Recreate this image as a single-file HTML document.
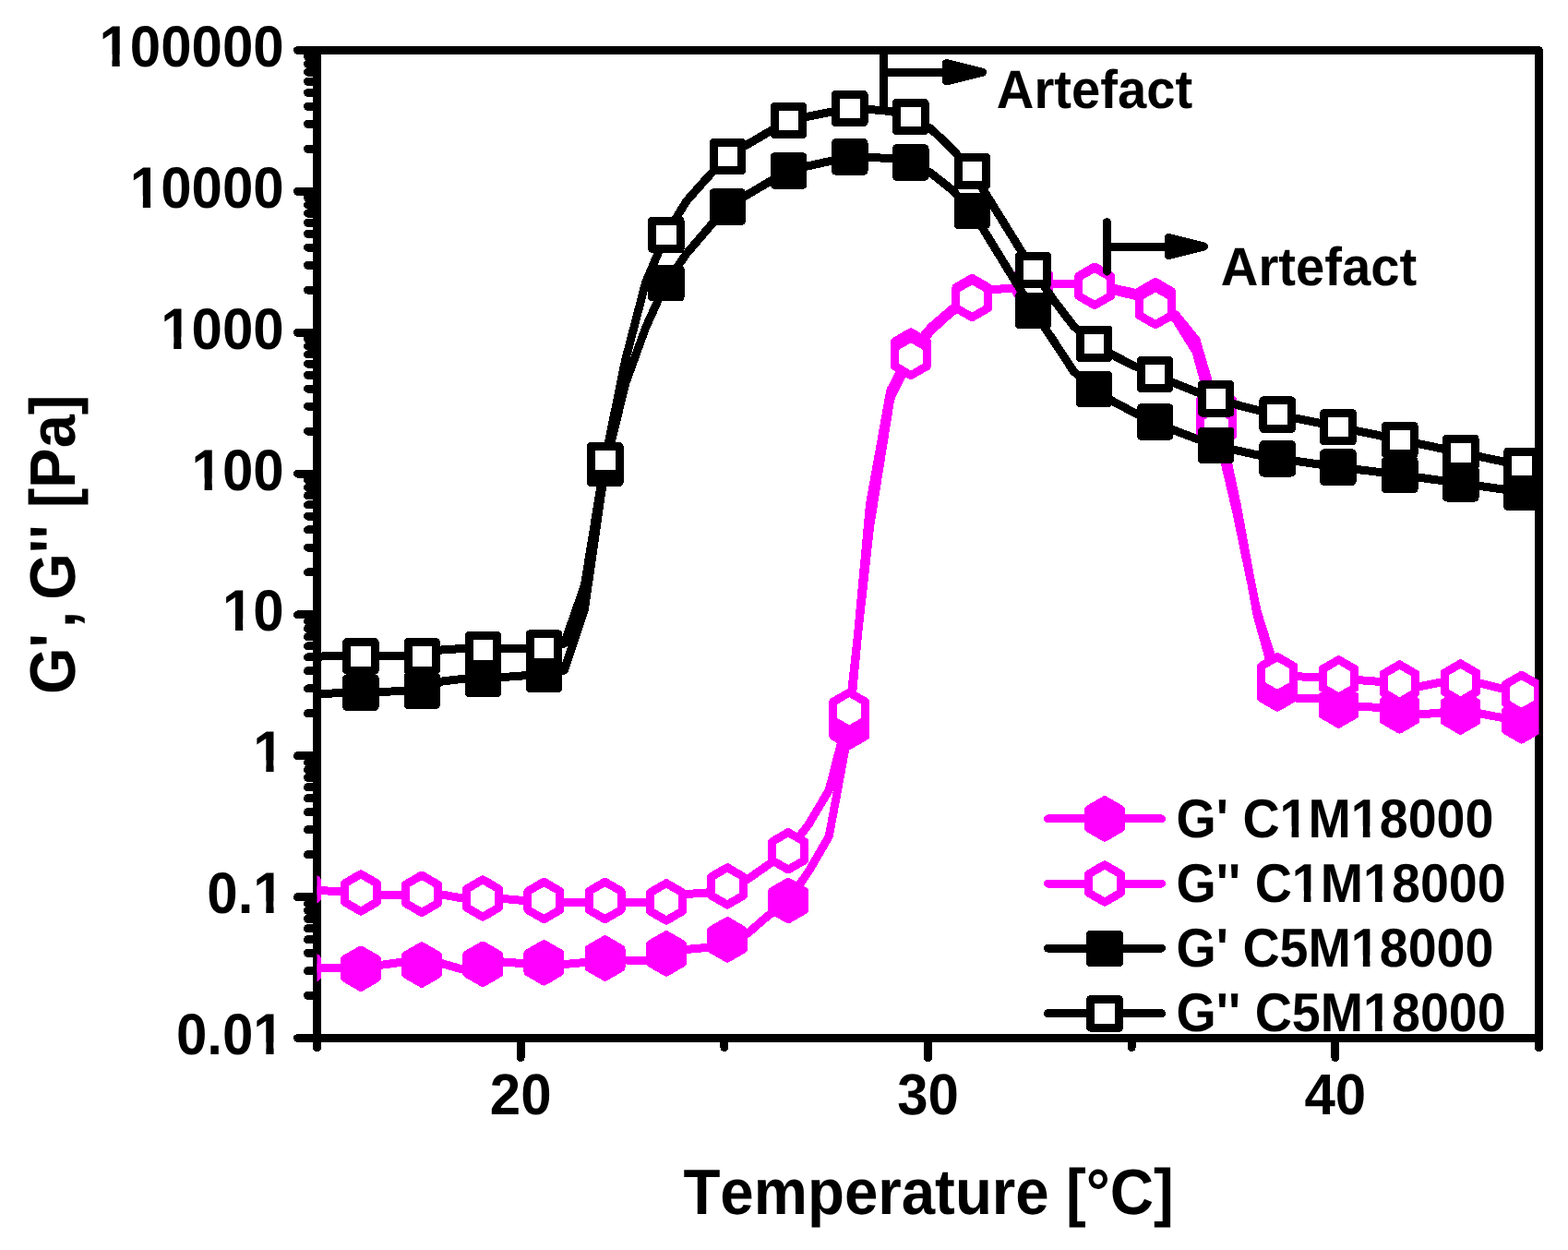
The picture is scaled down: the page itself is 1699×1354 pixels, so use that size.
<!DOCTYPE html>
<html lang="en"><head><meta charset="utf-8"><title>G', G'' vs Temperature</title>
<style>html,body{margin:0;padding:0;background:#fff}body{width:1699px;height:1354px;overflow:hidden}svg{display:block}text{font-family:"Liberation Sans",Arial,Helvetica,sans-serif;font-weight:bold;fill:#000;font-kerning:none;font-variant-ligatures:none;text-rendering:geometricPrecision}.t60{font-size:60px}.t56{font-size:56px}.t65{font-size:65px}</style></head><body>
<svg width="1699" height="1354" viewBox="0 0 1699 1354" shape-rendering="crispEdges">
<rect width="1699" height="1354" fill="#fff"/>
<defs><clipPath id="plot"><rect x="343.5" y="50" width="1324" height="1079"/></clipPath></defs>
<g fill="none" stroke="#000" stroke-width="9" stroke-linecap="round" stroke-linejoin="round">
<path d="M343.5 54.5H1667.5V1124.5"/>
<path d="M343.5 54.5V1124.5H1667.5"/>
<path d="M322.5 1124.5H343.5M333.5 1078.49H343.5M333.5 1051.57H343.5M333.5 1032.47H343.5M333.5 1017.66H343.5M333.5 1005.55H343.5M333.5 995.32H343.5M333.5 986.46H343.5M333.5 978.64H343.5M322.5 971.64H343.5M333.5 925.63H343.5M333.5 898.71H343.5M333.5 879.61H343.5M333.5 864.8H343.5M333.5 852.7H343.5M333.5 842.46H343.5M333.5 833.6H343.5M333.5 825.78H343.5M322.5 818.79H343.5M333.5 772.77H343.5M333.5 745.85H343.5M333.5 726.76H343.5M333.5 711.94H343.5M333.5 699.84H343.5M333.5 689.61H343.5M333.5 680.74H343.5M333.5 672.92H343.5M322.5 665.93H343.5M333.5 619.91H343.5M333.5 593H343.5M333.5 573.9H343.5M333.5 559.09H343.5M333.5 546.98H343.5M333.5 536.75H343.5M333.5 527.88H343.5M333.5 520.07H343.5M322.5 513.07H343.5M333.5 467.06H343.5M333.5 440.14H343.5M333.5 421.04H343.5M333.5 406.23H343.5M333.5 394.13H343.5M333.5 383.89H343.5M333.5 375.03H343.5M333.5 367.21H343.5M322.5 360.21H343.5M333.5 314.2H343.5M333.5 287.28H343.5M333.5 268.19H343.5M333.5 253.37H343.5M333.5 241.27H343.5M333.5 231.04H343.5M333.5 222.17H343.5M333.5 214.35H343.5M322.5 207.36H343.5M333.5 161.34H343.5M333.5 134.43H343.5M333.5 115.33H343.5M333.5 100.51H343.5M333.5 88.41H343.5M333.5 78.18H343.5M333.5 69.31H343.5M333.5 61.49H343.5M322.5 54.5H343.5"/>
<path d="M564.17 1124.5V1145.6M1005.5 1124.5V1145.6M1446.83 1124.5V1145.6M343.5 1124.5V1134.6M784.83 1124.5V1134.6M1226.17 1124.5V1134.6M1667.5 1124.5V1134.6"/>
</g>
<g clip-path="url(#plot)" stroke-width="9" stroke-linejoin="round" stroke-linecap="round">
<polyline fill="none" stroke="#ff00ff" points="324.8,1048.3 346.87,1048.6 368.93,1048.9 391,1049.2 413,1045.3 435,1042.3 457,1045.1 479.03,1043.7 501.07,1050 523.1,1044.3 545.2,1042 567.3,1043.7 589.4,1042.8 611.47,1044.5 633.53,1042.5 655.6,1038 677.73,1040 699.87,1040.3 722,1032.9 744.03,1028.4 766.07,1026.4 788.1,1017.9 810.1,1011 832.1,992 854.1,975.6 876.17,944 898.23,906 920.3,787.2 942.53,546 964.77,423 987,380 1009.1,354 1031.2,335 1053.3,321.5 1075.3,313.6 1097.3,312.2 1119.3,308 1141.57,307.2 1163.83,307.1 1186.1,309.2 1208.07,312.5 1230.03,317.3 1252,325.7 1274,341 1296,368 1318,443 1340.03,546 1362.07,666 1384.1,746 1406.23,756.6 1428.37,756.7 1450.5,764 1472.5,765.3 1494.5,766.4 1516.5,769.9 1538.5,774 1560.5,772 1582.5,771 1604.57,773 1626.63,777.3 1648.7,780.8"/>
<path d="M325.8 1028.1L308.31 1038.2L308.31 1058.4L325.8 1068.5L343.29 1058.4L343.29 1038.2ZM391 1029L373.51 1039.1L373.51 1059.3L391 1069.4L408.49 1059.3L408.49 1039.1ZM457 1024.9L439.51 1035L439.51 1055.2L457 1065.3L474.49 1055.2L474.49 1035ZM523.1 1024.1L505.61 1034.2L505.61 1054.4L523.1 1064.5L540.59 1054.4L540.59 1034.2ZM589.4 1022.6L571.91 1032.7L571.91 1052.9L589.4 1063L606.89 1052.9L606.89 1032.7ZM655.6 1017.8L638.11 1027.9L638.11 1048.1L655.6 1058.2L673.09 1048.1L673.09 1027.9ZM722 1012.7L704.51 1022.8L704.51 1043L722 1053.1L739.49 1043L739.49 1022.8ZM788.1 997.7L770.61 1007.8L770.61 1028L788.1 1038.1L805.59 1028L805.59 1007.8ZM854.1 955.4L836.61 965.5L836.61 985.7L854.1 995.8L871.59 985.7L871.59 965.5ZM920.3 767L902.81 777.1L902.81 797.3L920.3 807.4L937.79 797.3L937.79 777.1ZM987 359.8L969.51 369.9L969.51 390.1L987 400.2L1004.49 390.1L1004.49 369.9ZM1053.3 301.3L1035.81 311.4L1035.81 331.6L1053.3 341.7L1070.79 331.6L1070.79 311.4ZM1119.3 287.8L1101.81 297.9L1101.81 318.1L1119.3 328.2L1136.79 318.1L1136.79 297.9ZM1186.1 289L1168.61 299.1L1168.61 319.3L1186.1 329.4L1203.59 319.3L1203.59 299.1ZM1252 305.5L1234.51 315.6L1234.51 335.8L1252 345.9L1269.49 335.8L1269.49 315.6ZM1318 422.8L1300.51 432.9L1300.51 453.1L1318 463.2L1335.49 453.1L1335.49 432.9ZM1384.1 725.8L1366.61 735.9L1366.61 756.1L1384.1 766.2L1401.59 756.1L1401.59 735.9ZM1450.5 743.8L1433.01 753.9L1433.01 774.1L1450.5 784.2L1467.99 774.1L1467.99 753.9ZM1516.5 749.7L1499.01 759.8L1499.01 780L1516.5 790.1L1533.99 780L1533.99 759.8ZM1582.5 750.8L1565.01 760.9L1565.01 781.1L1582.5 791.2L1599.99 781.1L1599.99 760.9ZM1648.7 760.6L1631.21 770.7L1631.21 790.9L1648.7 801L1666.19 790.9L1666.19 770.7Z" fill="#ff00ff" stroke="#ff00ff"/>
<polyline fill="none" stroke="#ff00ff" points="324.8,963.3 346.87,964.53 368.93,965.77 391,967 413,969 435,969 457,968.3 479.03,969 501.07,973 523.1,973 545.2,973.5 567.3,975.5 589.4,975.5 611.47,977.5 633.53,977.5 655.6,975.5 677.73,977.5 699.87,977.5 722,976.9 744.03,968.5 766.07,967 788.1,959.9 810.1,952.4 832.1,937 854.1,921.8 876.17,893 898.23,856 920.3,770.3 942.53,571 964.77,432 987,386.4 1009.1,358 1031.2,338 1053.3,323.5 1075.3,313.6 1097.3,312.2 1119.3,308.5 1141.57,307.2 1163.83,307.1 1186.1,310.4 1208.07,315.3 1230.03,320.3 1252,331.5 1274,346 1296,381 1318,462 1340.03,556 1362.07,662 1384.1,731.7 1406.23,732.77 1428.37,733.83 1450.5,734.9 1472.5,736.63 1494.5,738.37 1516.5,740.1 1538.5,743.6 1560.5,739.3 1582.5,739.1 1604.57,740.4 1626.63,745.8 1648.7,751.5"/>
<path d="M325.8 943.1L308.31 953.2L308.31 973.4L325.8 983.5L343.29 973.4L343.29 953.2ZM391 946.8L373.51 956.9L373.51 977.1L391 987.2L408.49 977.1L408.49 956.9ZM457 948.1L439.51 958.2L439.51 978.4L457 988.5L474.49 978.4L474.49 958.2ZM523.1 952.8L505.61 962.9L505.61 983.1L523.1 993.2L540.59 983.1L540.59 962.9ZM589.4 955.3L571.91 965.4L571.91 985.6L589.4 995.7L606.89 985.6L606.89 965.4ZM655.6 955.3L638.11 965.4L638.11 985.6L655.6 995.7L673.09 985.6L673.09 965.4ZM722 956.7L704.51 966.8L704.51 987L722 997.1L739.49 987L739.49 966.8ZM788.1 939.7L770.61 949.8L770.61 970L788.1 980.1L805.59 970L805.59 949.8ZM854.1 901.6L836.61 911.7L836.61 931.9L854.1 942L871.59 931.9L871.59 911.7ZM920.3 750.1L902.81 760.2L902.81 780.4L920.3 790.5L937.79 780.4L937.79 760.2ZM987 366.2L969.51 376.3L969.51 396.5L987 406.6L1004.49 396.5L1004.49 376.3ZM1053.3 303.3L1035.81 313.4L1035.81 333.6L1053.3 343.7L1070.79 333.6L1070.79 313.4ZM1119.3 288.3L1101.81 298.4L1101.81 318.6L1119.3 328.7L1136.79 318.6L1136.79 298.4ZM1186.1 290.2L1168.61 300.3L1168.61 320.5L1186.1 330.6L1203.59 320.5L1203.59 300.3ZM1252 311.3L1234.51 321.4L1234.51 341.6L1252 351.7L1269.49 341.6L1269.49 321.4ZM1318 441.8L1300.51 451.9L1300.51 472.1L1318 482.2L1335.49 472.1L1335.49 451.9ZM1384.1 711.5L1366.61 721.6L1366.61 741.8L1384.1 751.9L1401.59 741.8L1401.59 721.6ZM1450.5 714.7L1433.01 724.8L1433.01 745L1450.5 755.1L1467.99 745L1467.99 724.8ZM1516.5 719.9L1499.01 730L1499.01 750.2L1516.5 760.3L1533.99 750.2L1533.99 730ZM1582.5 718.9L1565.01 729L1565.01 749.2L1582.5 759.3L1599.99 749.2L1599.99 729ZM1648.7 731.3L1631.21 741.4L1631.21 761.6L1648.7 771.7L1666.19 761.6L1666.19 741.4Z" fill="#fff" stroke="#ff00ff"/>
<polyline fill="none" stroke="#000" points="324.5,752.2 346.57,751.47 368.63,750.73 390.7,750 412.8,749.33 434.9,748.67 457,748 479.03,738 501.07,735.4 523.1,735.2 545.17,733.53 567.23,731.87 589.3,730.2 611.37,726 633.43,660 655.5,507.1 677.53,416 699.57,355 721.6,306.4 743.73,275 765.87,249 788,223.8 810.1,210.77 832.2,197.73 854.3,184.7 876.37,179.7 898.43,174.7 920.5,169.7 942.5,170.5 964.5,171.5 986.5,175.8 1008.67,187.5 1030.83,205 1053,228 1075.07,264 1097.13,300 1119.2,336 1141.27,368.7 1163.33,402.2 1185.4,421.4 1207.4,435.5 1229.4,447.3 1251.4,456.8 1273.4,466.5 1295.4,474.9 1317.4,482 1339.57,487.8 1361.73,492.7 1383.9,496.5 1405.83,499.63 1427.77,502.77 1449.7,505.9 1472,508.67 1494.3,511.43 1516.6,514.2 1538.6,517.3 1560.6,520.4 1582.6,523.5 1604.63,526.63 1626.67,529.77 1648.7,532.9"/>
<path d="M310.5 737.2h30.5v30.5h-30.5ZM375.7 735h30.5v30.5h-30.5ZM442 733h30.5v30.5h-30.5ZM508.1 720.2h30.5v30.5h-30.5ZM574.3 715.2h30.5v30.5h-30.5ZM640.5 492.1h30.5v30.5h-30.5ZM706.6 291.4h30.5v30.5h-30.5ZM773 208.8h30.5v30.5h-30.5ZM839.3 169.7h30.5v30.5h-30.5ZM905.5 154.7h30.5v30.5h-30.5ZM971.5 160.8h30.5v30.5h-30.5ZM1038 213h30.5v30.5h-30.5ZM1104.2 321h30.5v30.5h-30.5ZM1170.4 406.4h30.5v30.5h-30.5ZM1236.4 441.8h30.5v30.5h-30.5ZM1302.4 467h30.5v30.5h-30.5ZM1368.9 481.5h30.5v30.5h-30.5ZM1434.7 490.9h30.5v30.5h-30.5ZM1501.6 499.2h30.5v30.5h-30.5ZM1567.6 508.5h30.5v30.5h-30.5ZM1633.7 517.9h30.5v30.5h-30.5Z" fill="#000" stroke="#000"/>
<polyline fill="none" stroke="#000" points="324.5,711.2 346.57,711.03 368.63,710.87 390.7,710.7 412.8,710.7 434.9,710.7 457,710.7 479.03,703.8 501.07,702.6 523.1,703.5 545.17,702.9 567.23,702.3 589.3,701.7 611.37,697 633.43,634 655.5,498.4 677.53,390.5 699.57,306 721.6,254 743.73,218 765.87,193 788,169.3 810.1,156.33 832.2,143.37 854.3,130.4 876.37,126.03 898.43,121.67 920.5,117.3 942.5,118.5 964.5,120.5 986.5,126.3 1008.67,139.5 1030.83,160.5 1053,185.4 1075.07,221.07 1097.13,256.73 1119.2,292.4 1141.27,324.5 1163.33,353.2 1185.4,372 1207.4,385.4 1229.4,396.6 1251.4,405.4 1273.4,415.4 1295.4,424.2 1317.4,431.6 1339.57,438.4 1361.73,444.1 1383.9,448.9 1405.83,453.4 1427.77,457.9 1449.7,462.4 1472,467.03 1494.3,471.67 1516.6,476.3 1538.6,480.93 1560.6,485.57 1582.6,490.2 1604.63,494.87 1626.67,499.53 1648.7,504.2"/>
<path d="M310.5 696.2h30.5v30.5h-30.5ZM375.7 695.7h30.5v30.5h-30.5ZM442 695.7h30.5v30.5h-30.5ZM508.1 688.5h30.5v30.5h-30.5ZM574.3 686.7h30.5v30.5h-30.5ZM640.5 483.4h30.5v30.5h-30.5ZM706.6 239h30.5v30.5h-30.5ZM773 154.3h30.5v30.5h-30.5ZM839.3 115.4h30.5v30.5h-30.5ZM905.5 102.3h30.5v30.5h-30.5ZM971.5 111.3h30.5v30.5h-30.5ZM1038 170.4h30.5v30.5h-30.5ZM1104.2 277.4h30.5v30.5h-30.5ZM1170.4 357h30.5v30.5h-30.5ZM1236.4 390.4h30.5v30.5h-30.5ZM1302.4 416.6h30.5v30.5h-30.5ZM1368.9 433.9h30.5v30.5h-30.5ZM1434.7 447.4h30.5v30.5h-30.5ZM1501.6 461.3h30.5v30.5h-30.5ZM1567.6 475.2h30.5v30.5h-30.5ZM1633.7 489.2h30.5v30.5h-30.5Z" fill="#fff" stroke="#000"/>
</g>
<g fill="none" stroke="#000" stroke-width="9" stroke-linecap="round" stroke-linejoin="round">
<path d="M957.7 54.5V114M957.7 78.5H1030"/>
<path d="M1199.5 240.5V294M1199.5 267H1270"/>
</g>
<g fill="#000" stroke="#000" stroke-width="9" stroke-linejoin="round">
<path d="M1025.5 68.5L1064.5 78.2L1025.5 87.9Z"/>
<path d="M1266.4 257.4L1304.6 267L1266.4 276.6Z"/>
</g>
<g stroke="#ff00ff" stroke-width="9" stroke-linecap="round" stroke-linejoin="round">
<path d="M1135.5 886.9H1258.5" fill="none"/>
<path d="M1197 866.7L1179.51 876.8L1179.51 897L1197 907.1L1214.49 897L1214.49 876.8Z" fill="#ff00ff"/>
</g>
<g transform="translate(1274.5 907) scale(0.993 1.055)"><text class="t56">G' C1M18000</text><path d="M115.61 -11.48h10.34v12.58h-10.34ZM133.63 -11.48h9.57v12.58h-9.57ZM193.4 -11.48h10.34v12.58h-10.34ZM211.42 -11.48h9.57v12.58h-9.57Z" fill="#fff" shape-rendering="geometricPrecision"/></g>
<g stroke="#ff00ff" stroke-width="9" stroke-linecap="round" stroke-linejoin="round">
<path d="M1135.5 957H1258.5" fill="none"/>
<path d="M1197 936.8L1179.51 946.9L1179.51 967.1L1197 977.2L1214.49 967.1L1214.49 946.9Z" fill="#fff"/>
</g>
<g transform="translate(1274.5 976.8) scale(0.993 1.055)"><text class="t56">G'' C1M18000</text><path d="M128.93 -11.48h10.34v12.58h-10.34ZM146.95 -11.48h9.57v12.58h-9.57ZM206.72 -11.48h10.34v12.58h-10.34ZM224.74 -11.48h9.57v12.58h-9.57Z" fill="#fff" shape-rendering="geometricPrecision"/></g>
<g stroke="#000" stroke-width="9" stroke-linecap="round" stroke-linejoin="round">
<path d="M1135.5 1027.2H1258.5" fill="none"/>
<path d="M1181.6 1012.2h31v30.5h-31Z" fill="#000"/>
</g>
<g transform="translate(1274.5 1047) scale(0.993 1.055)"><text class="t56">G' C5M18000</text><path d="M193.4 -11.48h10.34v12.58h-10.34ZM211.42 -11.48h9.57v12.58h-9.57Z" fill="#fff" shape-rendering="geometricPrecision"/></g>
<g stroke="#000" stroke-width="9" stroke-linecap="round" stroke-linejoin="round">
<path d="M1135.5 1097.7H1258.5" fill="none"/>
<path d="M1181.6 1082.7h31v30.5h-31Z" fill="#fff"/>
</g>
<g transform="translate(1274.5 1116.8) scale(0.993 1.055)"><text class="t56">G'' C5M18000</text><path d="M206.72 -11.48h10.34v12.58h-10.34ZM224.74 -11.48h9.57v12.58h-9.57Z" fill="#fff" shape-rendering="geometricPrecision"/></g>
<g transform="translate(307.7 1142) scale(1 1.052)"><text class="t60" text-anchor="end">0.01</text><path d="M-30.44 -12.3h11.07v13.48h-11.07ZM-11.13 -12.3h10.25v13.48h-10.25Z" fill="#fff" shape-rendering="geometricPrecision"/></g>
<g transform="translate(307.7 989.14) scale(1 1.052)"><text class="t60" text-anchor="end">0.1</text><path d="M-30.44 -12.3h11.07v13.48h-11.07ZM-11.13 -12.3h10.25v13.48h-10.25Z" fill="#fff" shape-rendering="geometricPrecision"/></g>
<g transform="translate(307.7 836.29) scale(1 1.052)"><text class="t60" text-anchor="end">1</text><path d="M-30.44 -12.3h11.07v13.48h-11.07ZM-11.13 -12.3h10.25v13.48h-10.25Z" fill="#fff" shape-rendering="geometricPrecision"/></g>
<g transform="translate(307.7 683.43) scale(1 1.052)"><text class="t60" text-anchor="end">10</text><path d="M-63.81 -12.3h11.07v13.48h-11.07ZM-44.5 -12.3h10.25v13.48h-10.25Z" fill="#fff" shape-rendering="geometricPrecision"/></g>
<g transform="translate(307.7 530.57) scale(1 1.052)"><text class="t60" text-anchor="end">100</text><path d="M-97.18 -12.3h11.07v13.48h-11.07ZM-77.87 -12.3h10.25v13.48h-10.25Z" fill="#fff" shape-rendering="geometricPrecision"/></g>
<g transform="translate(307.7 377.71) scale(1 1.052)"><text class="t60" text-anchor="end">1000</text><path d="M-130.55 -12.3h11.07v13.48h-11.07ZM-111.24 -12.3h10.25v13.48h-10.25Z" fill="#fff" shape-rendering="geometricPrecision"/></g>
<g transform="translate(307.7 224.86) scale(1 1.052)"><text class="t60" text-anchor="end">10000</text><path d="M-163.92 -12.3h11.07v13.48h-11.07ZM-144.61 -12.3h10.25v13.48h-10.25Z" fill="#fff" shape-rendering="geometricPrecision"/></g>
<g transform="translate(307.7 72) scale(1 1.052)"><text class="t60" text-anchor="end">100000</text><path d="M-197.29 -12.3h11.07v13.48h-11.07ZM-177.98 -12.3h10.25v13.48h-10.25Z" fill="#fff" shape-rendering="geometricPrecision"/></g>
<text class="t60" transform="translate(564.17 1207.3) scale(1 1.045)" text-anchor="middle">20</text>
<text class="t60" transform="translate(1005.5 1207.3) scale(1 1.045)" text-anchor="middle">30</text>
<text class="t60" transform="translate(1446.83 1207.3) scale(1 1.045)" text-anchor="middle">40</text>
<text class="t65" transform="translate(740.4 1315) scale(1.0065 1.07)">Temperature [°C]</text>
<text class="t65" transform="translate(81.4 752) rotate(-90) scale(1 1.07)">G'<tspan dx="6">,</tspan><tspan dx="-6"> </tspan>G'' [Pa]</text>
<text class="t56" transform="translate(1079.8 117) scale(1.004 1.045)">Artefact</text>
<text class="t56" transform="translate(1322.8 309) scale(1.004 1.045)">Artefact</text>
</svg></body></html>
